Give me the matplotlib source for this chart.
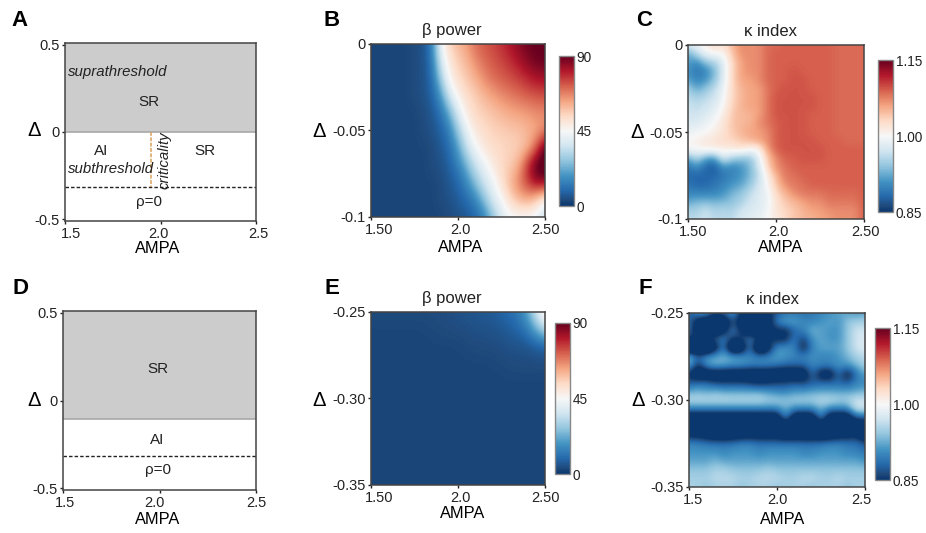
#!/usr/bin/python
import numpy as np
import matplotlib
matplotlib.use('Agg')
import matplotlib.pyplot as plt
from matplotlib.colors import LinearSegmentedColormap
from matplotlib.transforms import ScaledTranslation

plt.rcParams['font.family'] = ['Liberation Sans', 'DejaVu Sans']
plt.rcParams['text.color'] = '#222222'
plt.rcParams['xtick.color'] = '#222222'
plt.rcParams['ytick.color'] = '#222222'

W, H = 926, 533

# phase diagrams
ampa_ticks = [1.5, 2.0, 2.5]
delta_ticks = [0.5, 0, -0.5]
A_sr_bottom = 0.0
A_rho_line = -0.318
A_crit_ampa = 1.95
D_sr_bottom = -0.103
D_rho_line = -0.314

# beta power, panel B: rows delta 0 .. -0.1, columns AMPA 1.5 .. 2.5
beta_B = [
    [3, 3, 3, 3, 3, 4, 5, 14, 42, 55, 60, 64, 70, 73, 75, 78, 82, 86, 89, 90, 90],
    [3, 3, 3, 3, 3, 4, 5, 12, 36, 50, 56, 60, 66, 70, 73, 75, 78, 82, 86, 89, 90],
    [3, 3, 3, 3, 3, 4, 5, 10, 28, 46, 53, 57, 61, 66, 70, 72, 74, 76, 79, 82, 83],
    [3, 3, 3, 3, 3, 4, 5, 8, 18, 36, 47, 53, 56, 60, 63, 66, 68, 70, 72, 73, 74],
    [3, 3, 3, 3, 3, 3, 4, 6, 11, 22, 38, 49, 54, 56, 58, 60, 62, 63, 64, 66, 66],
    [3, 3, 3, 3, 3, 3, 4, 5, 8, 14, 28, 42, 50, 53, 55, 56, 57, 58, 60, 62, 66],
    [3, 3, 3, 3, 3, 3, 3, 4, 6, 10, 20, 34, 44, 50, 53, 54, 55, 56, 60, 72, 92],
    [3, 3, 3, 3, 3, 3, 3, 4, 5, 8, 14, 24, 35, 42, 49, 54, 56, 62, 78, 92, 96],
    [3, 3, 3, 3, 3, 3, 3, 3, 4, 6, 9, 16, 26, 36, 42, 52, 60, 68, 76, 85, 85],
    [3, 3, 3, 3, 3, 3, 3, 3, 4, 5, 7, 10, 15, 26, 38, 44, 54, 60, 62, 56, 46],
    [3, 3, 3, 3, 3, 3, 3, 3, 3, 4, 5, 6, 9, 14, 26, 38, 43, 44, 44, 42, 34],
]

# kappa index, panel C: rows delta 0 .. -0.1, columns AMPA 1.5 .. 2.5
kappa_C = [
    [.98, .99, 1.01, 1.03, 1.02, 1.05, 1.07, 1.07, 1.07, 1.085, 1.085, 1.09, 1.09, 1.09, 1.09, 1.09, 1.09, 1.085, 1.085, 1.085, 1.085],
    [.92, .96, .99, 1.00, 1.00, 1.04, 1.07, 1.07, 1.07, 1.085, 1.09, 1.09, 1.09, 1.09, 1.09, 1.09, 1.09, 1.085, 1.085, 1.085, 1.085],
    [.92, .90, .94, .95, .98, 1.03, 1.06, 1.07, 1.07, 1.085, 1.09, 1.09, 1.09, 1.09, 1.09, 1.09, 1.09, 1.085, 1.085, 1.085, 1.085],
    [.91, .89, .90, .93, .98, 1.03, 1.06, 1.07, 1.07, 1.085, 1.09, 1.09, 1.095, 1.09, 1.09, 1.09, 1.09, 1.085, 1.085, 1.085, 1.085],
    [.92, .90, .91, .94, .98, 1.03, 1.06, 1.06, 1.07, 1.085, 1.09, 1.09, 1.095, 1.095, 1.09, 1.09, 1.09, 1.085, 1.085, 1.085, 1.085],
    [.95, .92, .94, .96, .99, 1.03, 1.05, 1.06, 1.06, 1.08, 1.09, 1.095, 1.095, 1.095, 1.09, 1.09, 1.09, 1.085, 1.085, 1.085, 1.085],
    [.96, .95, .96, .97, .995, 1.03, 1.05, 1.06, 1.06, 1.08, 1.095, 1.095, 1.095, 1.095, 1.095, 1.09, 1.09, 1.085, 1.085, 1.085, 1.085],
    [.97, .96, .97, .98, 1.00, 1.035, 1.05, 1.06, 1.06, 1.08, 1.095, 1.095, 1.095, 1.095, 1.095, 1.09, 1.09, 1.085, 1.085, 1.085, 1.085],
    [.97, .97, .98, .99, 1.01, 1.04, 1.05, 1.05, 1.06, 1.08, 1.095, 1.095, 1.095, 1.095, 1.09, 1.09, 1.09, 1.085, 1.085, 1.085, 1.085],
    [.98, .98, .99, 1.00, 1.02, 1.04, 1.05, 1.05, 1.07, 1.08, 1.09, 1.095, 1.095, 1.095, 1.09, 1.09, 1.09, 1.085, 1.085, 1.085, 1.085],
    [.99, .995, 1.00, 1.01, 1.02, 1.04, 1.05, 1.06, 1.06, 1.07, 1.09, 1.095, 1.095, 1.095, 1.09, 1.09, 1.09, 1.085, 1.085, 1.085, 1.085],
    [1.00, 1.01, 1.015, 1.02, 1.03, 1.03, 1.04, 1.05, 1.06, 1.07, 1.09, 1.095, 1.095, 1.095, 1.095, 1.09, 1.09, 1.09, 1.085, 1.085, 1.085],
    [1.00, 1.00, 1.01, 1.01, 1.01, 1.01, 1.02, 1.00, 1.00, 1.06, 1.09, 1.095, 1.095, 1.095, 1.095, 1.095, 1.09, 1.09, 1.09, 1.09, 1.09],
    [.92, .96, .92, .91, .98, .95, .94, .94, .98, 1.04, 1.07, 1.09, 1.09, 1.095, 1.095, 1.095, 1.09, 1.09, 1.09, 1.09, 1.09],
    [.89, .91, .88, .87, .91, .90, .91, .93, .97, 1.03, 1.07, 1.08, 1.09, 1.09, 1.09, 1.09, 1.09, 1.09, 1.09, 1.09, 1.09],
    [.88, .88, .88, .88, .89, .90, .91, .93, .96, 1.01, 1.05, 1.08, 1.08, 1.09, 1.09, 1.09, 1.09, 1.09, 1.09, 1.09, 1.09],
    [.89, .88, .88, .89, .90, .91, .92, .94, .97, 1.00, 1.04, 1.07, 1.08, 1.08, 1.09, 1.09, 1.09, 1.09, 1.09, 1.09, 1.09],
    [.90, .90, .90, .90, .91, .93, .94, .96, .98, .99, 1.03, 1.05, 1.07, 1.08, 1.08, 1.08, 1.085, 1.085, 1.085, 1.085, 1.09],
    [.92, .93, .93, .93, .93, .94, .95, .97, .98, .99, 1.02, 1.04, 1.05, 1.06, 1.07, 1.07, 1.08, 1.08, 1.08, 1.08, 1.09],
    [.95, .95, .97, .95, .96, .95, .97, .98, .98, .995, 1.02, 1.03, 1.04, 1.05, 1.06, 1.06, 1.07, 1.07, 1.07, 1.07, 1.09],
    [.96, .96, .97, .96, .96, .96, .98, .98, .99, 1.00, 1.01, 1.03, 1.04, 1.05, 1.05, 1.06, 1.06, 1.07, 1.07, 1.07, 1.09],
]

# beta power, panel E: rows delta -0.25 .. -0.35, columns AMPA 1.5 .. 2.5
beta_E = [
    [4, 4, 4, 4, 4, 5, 6, 7, 10, 18, 56],
    [3, 3, 3, 3, 4, 4, 5, 5, 7, 11, 34],
    [3, 3, 3, 3, 3, 3, 4, 4, 5, 5, 8],
    [3, 3, 3, 3, 3, 3, 3, 3, 4, 4, 4],
    [3, 3, 3, 3, 3, 3, 3, 3, 3, 3, 3],
    [3, 3, 3, 3, 3, 3, 3, 3, 3, 3, 3],
    [3, 3, 3, 3, 3, 3, 3, 3, 3, 3, 3],
    [3, 3, 3, 3, 3, 3, 3, 3, 3, 3, 3],
    [3, 3, 3, 3, 3, 3, 3, 3, 3, 3, 3],
    [3, 3, 3, 3, 3, 3, 3, 3, 3, 3, 3],
    [3, 3, 3, 3, 3, 3, 3, 3, 3, 3, 3],
]

# kappa index, panel F: rows delta -0.25 .. -0.35, columns AMPA 1.5 .. 2.5
# (dark cells run off the low end of the colour bar)
kappa_F = [
    [.87, .91, .92, .85, .88, .92, .84, .82, .82, .84, .87, .89, .89, .89, .89, .90, .91, .92, .92, .91, .92],
    [.89, .82, .79, .79, .80, .87, .81, .79, .79, .82, .90, .92, .92, .90, .90, .91, .92, .91, .94, .95, .95],
    [.89, .81, .80, .80, .83, .90, .84, .80, .80, .84, .84, .84, .88, .90, .93, .92, .91, .91, .94, .97, .97],
    [.85, .86, .86, .88, .90, .85, .86, .90, .85, .86, .84, .84, .90, .85, .91, .92, .91, .91, .94, .97, .98],
    [.76, .75, .75, .82, .90, .75, .80, .90, .75, .82, .91, .91, .90, .83, .90, .92, .92, .92, .94, .97, .98],
    [.94, .88, .91, .92, .93, .92, .91, .90, .90, .90, .92, .91, .90, .90, .91, .90, .90, .91, .93, .95, .96],
    [.93, .84, .91, .93, .92, .91, .91, .90, .90, .90, .89, .88, .88, .88, .90, .90, .90, .91, .91, .93, .95],
    [.84, .80, .80, .80, .80, .80, .80, .80, .80, .80, .80, .80, .80, .80, .89, .82, .81, .89, .82, .89, .92],
    [.87, .88, .88, .86, .86, .86, .86, .85, .84, .85, .86, .86, .87, .86, .87, .88, .88, .88, .87, .90, .90],
    [.92, .93, .92, .93, .92, .92, .92, .92, .92, .91, .90, .90, .91, .91, .92, .92, .92, .92, .92, .92, .93],
    [.96, .96, .96, .96, .96, .96, .96, .96, .96, .95, .95, .94, .95, .95, .95, .96, .96, .95, .95, .97, .97],
    [.90, .90, .90, .90, .90, .90, .90, .90, .90, .90, .90, .93, .90, .90, .90, .93, .90, .90, .90, .97, .97],
    [.80, .80, .80, .80, .80, .80, .80, .80, .80, .80, .80, .91, .80, .80, .80, .91, .80, .80, .80, .87, .87],
    [.80, .80, .80, .80, .80, .80, .80, .80, .80, .80, .80, .80, .80, .80, .80, .80, .80, .80, .80, .80, .80],
    [.84, .83, .82, .80, .80, .81, .82, .82, .82, .82, .82, .80, .81, .80, .80, .80, .80, .82, .83, .84, .80],
    [.90, .90, .89, .89, .89, .89, .90, .90, .89, .89, .89, .89, .89, .89, .89, .89, .90, .90, .89, .89, .87],
    [.91, .91, .91, .91, .90, .91, .91, .91, .90, .91, .91, .91, .91, .90, .90, .91, .91, .91, .90, .90, .89],
    [.92, .92, .92, .93, .92, .92, .92, .92, .92, .92, .92, .92, .92, .92, .92, .92, .92, .92, .92, .92, .91],
    [.94, .94, .94, .95, .95, .94, .94, .94, .94, .95, .94, .94, .94, .94, .94, .94, .94, .94, .94, .94, .94],
    [.95, .95, .95, .96, .96, .96, .95, .95, .96, .96, .96, .95, .95, .96, .96, .95, .95, .96, .95, .95, .95],
    [.95, .95, .94, .95, .95, .95, .94, .95, .95, .95, .94, .95, .95, .95, .94, .95, .95, .95, .94, .95, .95],
]

cmap_stops = [(0, '#0a376e'), (.04, '#1f4a7c'), (.1, '#2468ab'), (.2, '#4393c3'), (.3, '#92c5de'), (.4, '#d1e5f0'),
              (.5, '#f7f7f7'), (.6, '#fddbc7'), (.7, '#f4a582'), (.8, '#d6604d'), (.9, '#b2182b'), (1, '#67001f')]
cmap = LinearSegmentedColormap.from_list('rdbu_soft', cmap_stops)

TICK = 10.5
NOTE = 11


def make_axes(fig, l, t, r, b):
    # pixel box of the reference -> figure fractions
    return fig.add_axes([l / W, 1 - b / H, (r - l) / W, (b - t) / H])


def dress(ax, box, xlab, ylab, title=None, xshift=(0, 0, 0)):
    l, t, r, b = box
    for s in ax.spines.values():
        s.set_color('#444444')
        s.set_linewidth(1.1)
    ax.tick_params(axis='both', length=2.5, width=1, pad=1.5, labelsize=TICK)
    ax.set_xlabel('AMPA', fontsize=11.8, va='center')
    ax.xaxis.set_label_coords((xlab[0] - l) / (r - l), (b - xlab[1]) / (b - t))
    ax.set_ylabel('Δ', fontsize=14.5, rotation=0, va='center', ha='center')
    ax.yaxis.set_label_coords((ylab[0] - l) / (r - l), (b - ylab[1]) / (b - t))
    if title:
        ax.text((title[0] - l) / (r - l), (b - title[1]) / (b - t), title[2],
                transform=ax.transAxes, ha='center', va='center', fontsize=12)
    for lab, dx in zip(ax.get_xticklabels(), xshift):
        lab.set_transform(lab.get_transform() + ScaledTranslation(dx / 100, 0, fig.dpi_scale_trans))


def phase(ax, sr_bottom, rho_line):
    ax.axhspan(sr_bottom, 0.51, color='#cccccc', lw=0)
    ax.axhline(sr_bottom, color='#a8a8a8', lw=1.2)
    ax.axhline(rho_line, color='#222222', lw=1, dashes=(2.5, 1.5))
    ax.set_xlim(1.5, 2.5)
    ax.set_ylim(-0.51, 0.51)
    ax.set_xticks(ampa_ticks)
    ax.set_xticklabels(['1.5', '2.0', '2.5'])
    ax.set_yticks(delta_ticks)
    ax.set_yticklabels(['0.5', '0', '-0.5'])


def heat(box, cbox, data, vmin, vmax, ylim, xlabels, ylabels, cticks, clabels):
    ax = make_axes(fig, *box)
    data = np.array(data, dtype=float)
    nrow, ncol = data.shape
    dx = 1.0 / (ncol - 1)
    dy = (ylim[1] - ylim[0]) / (nrow - 1)
    im = ax.imshow(data, cmap=cmap, vmin=vmin, vmax=vmax, aspect='auto', interpolation='bicubic',
                   extent=[1.5 - dx / 2, 2.5 + dx / 2, ylim[0] - dy / 2, ylim[1] + dy / 2])
    ax.set_xlim(1.5, 2.5)
    ax.set_ylim(*ylim)
    ax.set_xticks(ampa_ticks)
    ax.set_xticklabels(xlabels)
    ax.set_yticks([ylim[1], (ylim[0] + ylim[1]) / 2, ylim[0]])
    ax.set_yticklabels(ylabels)
    cax = make_axes(fig, *cbox)
    cb = fig.colorbar(im, cax=cax)
    cb.set_ticks(cticks)
    cb.set_ticklabels(clabels)
    cb.ax.tick_params(length=0, pad=2, labelsize=9.8)
    cb.outline.set_edgecolor('#888888')
    cb.outline.set_linewidth(1)
    return ax


fig = plt.figure(figsize=(W / 100, H / 100), dpi=100)

# panel A
box = (65, 43, 256, 221)
ax = make_axes(fig, *box)
phase(ax, A_sr_bottom, A_rho_line)
ax.plot([A_crit_ampa, A_crit_ampa], [A_sr_bottom, A_rho_line], color='#d9a05b', lw=1.1, dashes=(2.5, 1))
ax.text(1.516, 0.343, 'suprathreshold', style='italic', fontsize=10.8, va='center')
ax.text(1.94, 0.17, 'SR', fontsize=NOTE, ha='center', va='center')
ax.text(1.69, -0.11, 'AI', fontsize=NOTE, ha='center', va='center')
ax.text(2.23, -0.11, 'SR', fontsize=NOTE, ha='center', va='center')
ax.text(1.516, -0.21, 'subthreshold', style='italic', fontsize=10.8, va='center')
ax.text(2.02, -0.16, 'criticality', style='italic', fontsize=10.8, rotation=90, ha='center', va='center')
ax.text(1.94, -0.40, 'ρ=0', fontsize=NOTE, ha='center', va='center')
dress(ax, box, (158, 249), (34, 131), xshift=(6, -2, 2))

# panel D
box = (63, 311, 256, 490)
ax = make_axes(fig, *box)
phase(ax, D_sr_bottom, D_rho_line)
ax.text(1.99, 0.177, 'SR', fontsize=NOTE, ha='center', va='center')
ax.text(1.99, -0.223, 'AI', fontsize=NOTE, ha='center', va='center')
ax.text(1.99, -0.394, 'ρ=0', fontsize=NOTE, ha='center', va='center')
dress(ax, box, (158, 520), (34, 400), xshift=(2, -5, 0))

# panel B
box = (371, 44, 545, 217)
ax = heat(box, (559, 56, 574, 206), beta_B, 0, 90, (-0.1, 0), ['1.50', '2.0', '2.50'],
          ['0', '-0.05', '-0.1'], [0, 45, 90], ['0', '45', '90'])
dress(ax, box, (461, 248), (319, 132), (452, 31, 'β power'), xshift=(8, 2, 0))

# panel C
box = (688, 45, 864, 219)
ax = heat(box, (878, 60, 893, 212), kappa_C, 0.85, 1.15, (-0.1, 0), ['1.50', '2.0', '2.50'],
          ['0', '-0.05', '-0.1'], [0.85, 1.0, 1.15], ['0.85', '1.00', '1.15'])
dress(ax, box, (781, 248), (637, 132), (771, 31, 'κ index'), xshift=(5, 2, 1))

# panel E
box = (371, 312, 545, 485)
ax = heat(box, (555, 323, 570, 474), beta_E, 0, 90, (-0.35, -0.25), ['1.50', '2.0', '2.50'],
          ['-0.25', '-0.30', '-0.35'], [0, 45, 90], ['0', '45', '90'])
dress(ax, box, (463, 514), (319, 400), (452, 299, 'β power'), xshift=(8, 2, 0))

# panel F
box = (689, 313, 865, 487)
ax = heat(box, (875, 328, 890, 480), kappa_F, 0.85, 1.15, (-0.35, -0.25), ['1.5', '2.0', '2.5'],
          ['-0.25', '-0.30', '-0.35'], [0.85, 1.0, 1.15], ['0.85', '1.00', '1.15'])
dress(ax, box, (783, 520), (638, 401), (773, 300, 'κ index'), xshift=(4, 0, -4))

# panel letters
for letter, px, py in [('A', 20, 21), ('B', 332, 20), ('C', 644, 20), ('D', 20, 288), ('E', 332, 288), ('F', 645, 288)]:
    fig.text(px / W, 1 - py / H, letter, fontsize=16, fontweight='bold', color='black', ha='center', va='center')

fig.savefig('out.png', dpi=100)
